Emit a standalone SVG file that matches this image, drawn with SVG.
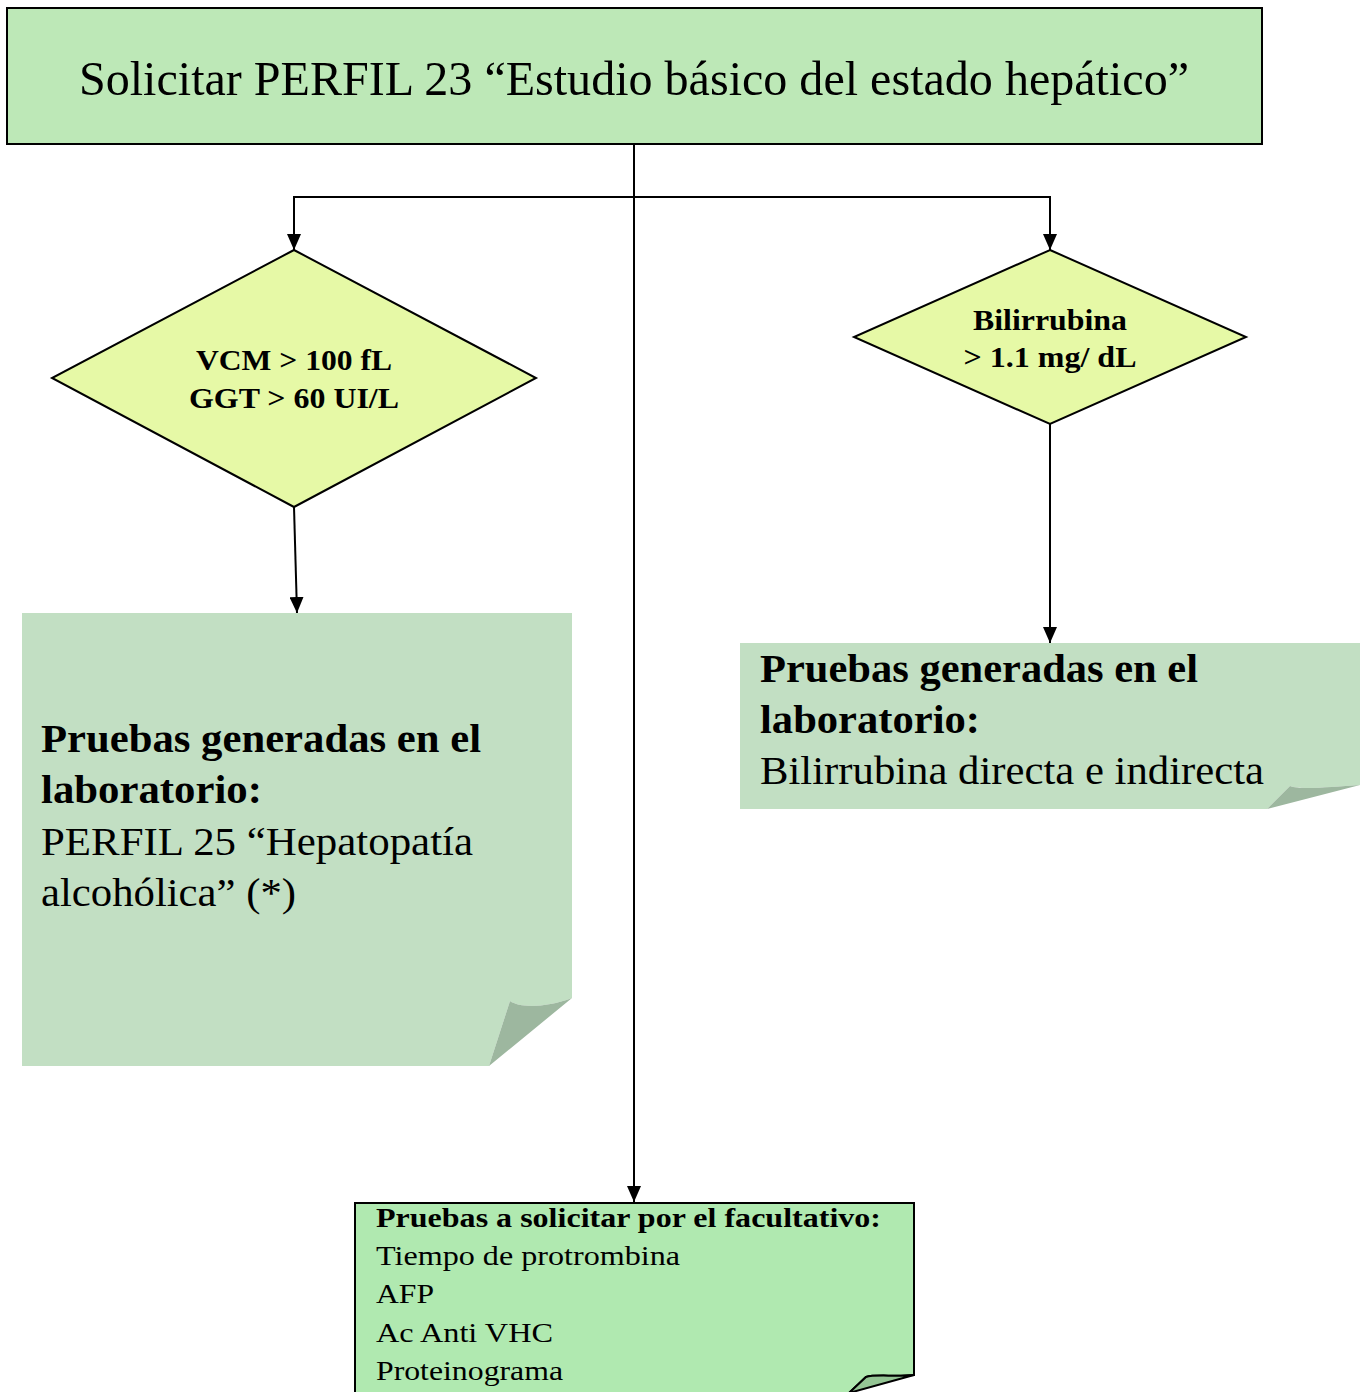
<svg xmlns="http://www.w3.org/2000/svg" width="1366" height="1392" viewBox="0 0 1366 1392">
<defs>
<style>
.conn{stroke:#000;stroke-width:2;fill:none}
.note{fill:#c2dfc3}
.curl{fill:#9db79f}
</style>
<marker id="arr" viewBox="0 0 16 14" refX="16" refY="7" markerWidth="16" markerHeight="14" markerUnits="userSpaceOnUse" orient="auto">
<path d="M0,0 L16,7 L0,14 z" fill="#000"/>
</marker>
</defs>
<rect width="1366" height="1392" fill="#fff"/>

<g id="connectors">
<line class="conn" x1="634" y1="144" x2="634" y2="1202" marker-end="url(#arr)"/>
<polyline class="conn" points="294,249 294,197 1050,197 1050,249" />
<line class="conn" x1="294" y1="200" x2="294" y2="250" marker-end="url(#arr)"/>
<line class="conn" x1="1050" y1="200" x2="1050" y2="250" marker-end="url(#arr)"/>
<line class="conn" x1="294" y1="507" x2="297" y2="613" marker-end="url(#arr)"/>
<line class="conn" x1="1050" y1="424" x2="1050" y2="643" marker-end="url(#arr)"/>
</g>

<g font-family="Liberation Serif, Times New Roman, serif" fill="#000">
<g id="start">
<rect x="7" y="8" width="1255" height="136" fill="#bde8b7" stroke="#000" stroke-width="2"/>
<text x="634" y="95" font-size="48" text-anchor="middle" textLength="1110" lengthAdjust="spacingAndGlyphs">Solicitar PERFIL 23 “Estudio básico del estado hepático”</text>
</g>

<g id="decision-vcm">
<polygon points="294,250 536,378 294,507 52,378" fill="#e6f9a6" stroke="#000" stroke-width="2"/>
<text font-weight="bold" x="294" y="370" font-size="30" text-anchor="middle" textLength="196" lengthAdjust="spacingAndGlyphs">VCM &gt; 100 fL</text>
<text font-weight="bold" x="294" y="408" font-size="30" text-anchor="middle" textLength="210" lengthAdjust="spacingAndGlyphs">GGT &gt; 60 UI/L</text>
</g>

<g id="decision-bili">
<polygon points="1050,250 1246,337 1050,424 854,337" fill="#e6f9a6" stroke="#000" stroke-width="2"/>
<text font-weight="bold" x="1050" y="330" font-size="29" text-anchor="middle" textLength="154" lengthAdjust="spacingAndGlyphs">Bilirrubina</text>
<text font-weight="bold" x="1050" y="367" font-size="29" text-anchor="middle" textLength="173" lengthAdjust="spacingAndGlyphs">&gt; 1.1 mg/ dL</text>
</g>

<g id="note-perfil25">
<path class="note" d="M22,613 H572 V998 C545,1008 520,1008 510,1001 L489,1066 H22 Z"/>
<path class="curl" d="M489,1066 L510,1001 C520,1008 545,1008 572,998 Z"/>
<text font-weight="bold" x="41" y="752" font-size="40" textLength="440" lengthAdjust="spacingAndGlyphs">Pruebas generadas en el</text>
<text font-weight="bold" x="41" y="803" font-size="40" textLength="221" lengthAdjust="spacingAndGlyphs">laboratorio:</text>
<text x="41" y="855" font-size="40" textLength="432" lengthAdjust="spacingAndGlyphs">PERFIL 25 “Hepatopatía</text>
<text x="41" y="906" font-size="40" textLength="255" lengthAdjust="spacingAndGlyphs">alcohólica” (*)</text>
</g>

<g id="note-bilirrubina">
<path class="note" d="M740,643 H1360 V785 C1330,787 1300,790 1290,786 L1267,809 H740 Z"/>
<path class="curl" d="M1267,809 L1290,786 C1300,790 1330,787 1360,785 Z"/>
<text font-weight="bold" x="760" y="682" font-size="40" textLength="438" lengthAdjust="spacingAndGlyphs">Pruebas generadas en el</text>
<text font-weight="bold" x="760" y="733" font-size="40" textLength="220" lengthAdjust="spacingAndGlyphs">laboratorio:</text>
<text x="760" y="784" font-size="40" textLength="504" lengthAdjust="spacingAndGlyphs">Bilirrubina directa e indirecta</text>
</g>

<g id="note-facultativo">
<path d="M355,1203 H914 V1375 C895,1377 875,1374 866,1377 L849,1393 H355 Z" fill="#b0e9b0" stroke="#000" stroke-width="2"/>
<path d="M849,1393 L866,1377 C875,1374 895,1377 914,1375 Z" fill="#94c594" stroke="#000" stroke-width="2"/>
<text font-weight="bold" x="376" y="1227" font-size="28" textLength="505" lengthAdjust="spacingAndGlyphs">Pruebas a solicitar por el facultativo:</text>
<text x="376" y="1265" font-size="28" textLength="304" lengthAdjust="spacingAndGlyphs">Tiempo de protrombina</text>
<text x="376" y="1303" font-size="28" textLength="58" lengthAdjust="spacingAndGlyphs">AFP</text>
<text x="376" y="1342" font-size="28" textLength="177" lengthAdjust="spacingAndGlyphs">Ac Anti VHC</text>
<text x="376" y="1380" font-size="28" textLength="187" lengthAdjust="spacingAndGlyphs">Proteinograma</text>
</g>
</g>
</svg>
